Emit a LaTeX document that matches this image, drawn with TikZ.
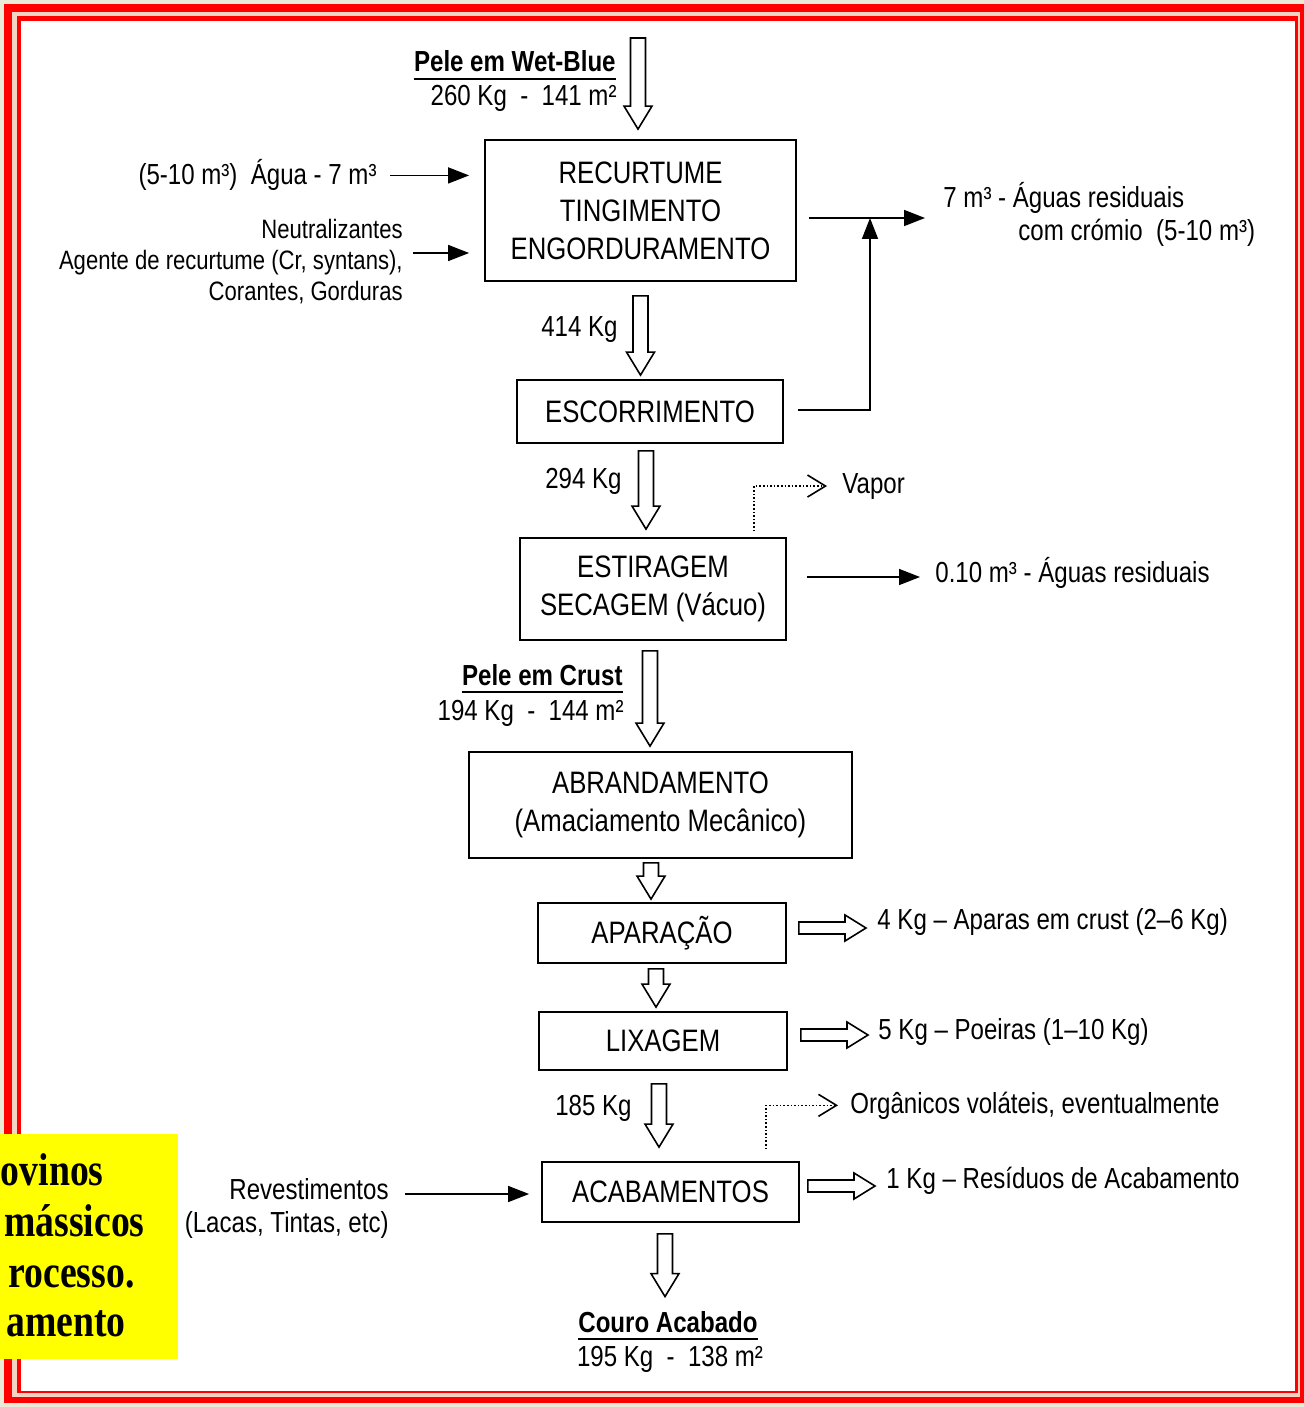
\documentclass[tikz,border=0pt]{standalone}
\usepackage{fontspec}
\setmainfont{Liberation Sans}[FakeStretch=0.83]
\newfontfamily\notefont{Liberation Serif}[FakeStretch=0.82]
\usetikzlibrary{arrows.meta,calc}
\definecolor{frame}{HTML}{FF0000}
\definecolor{paper}{HTML}{E9EBD6}
\definecolor{pale}{HTML}{F3D3C3}
\definecolor{note}{HTML}{FFFF00}
\tikzset{
  stage/.style={draw, line width=0.9pt, inner sep=0pt, align=center,
    font=\fontsize{15.5}{19}\selectfont},
  lbl/.style={inner sep=0pt, font=\fontsize{14.5}{17}\selectfont},
  head/.style={inner sep=0pt, font=\fontsize{14.5}{17}\selectfont\bfseries},
  small/.style={inner sep=0pt, align=right, font=\fontsize{13.3}{15.5}\selectfont},
  feed/.style={line width=0.8pt, -{Triangle[length=10.5pt,width=8pt]}},
  vent/.style={line width=0.8pt, densely dotted, -{Straight Barb[length=9pt,width=11pt]}},
  flowdown/.style={draw, fill=white, line width=0.8pt, to path={
    let \p1=(\tikztostart), \p2=(\tikztotarget) in
    (\x1-3.75pt,\y1) -- (\x1+3.75pt,\y1) -- (\x1+3.75pt,\y2+11.5pt)
    -- (\x1+7pt,\y2+11.5pt) -- (\x1,\y2) -- (\x1-7pt,\y2+11.5pt)
    -- (\x1-3.75pt,\y2+11.5pt) -- cycle}},
  flowright/.style={draw, fill=white, line width=0.8pt, to path={
    let \p1=(\tikztostart), \p2=(\tikztotarget) in
    (\x1,\y1+3pt) -- (\x2-10.5pt,\y1+3pt) -- (\x2-10.5pt,\y1+6.5pt)
    -- (\x2,\y1) -- (\x2-10.5pt,\y1-6.5pt) -- (\x2-10.5pt,\y1-3pt)
    -- (\x1,\y1-3pt) -- cycle}},
}
\begin{document}
\begin{tikzpicture}[x=0.5pt,y=-0.5pt]
\useasboundingbox (0,0) rectangle (1304,1407);
% frame
\fill[paper] (0,0) rectangle (1304,1407);
\fill[frame] (4,4) rectangle (1310,1403);
\fill[pale] (12,12) rectangle (1300,1397);
\fill[frame] (16.5,16.5) rectangle (1298,1393);
\fill[white] (21,21) rectangle (1295,1391);

% stages
\node[stage, minimum width=155.5pt, minimum height=70.5pt] (recurt) at (640.5,210.5) {RECURTUME\\TINGIMENTO\\ENGORDURAMENTO};
\node[stage, minimum width=133pt, minimum height=31.5pt] (escorr) at (650,411.5) {ESCORRIMENTO};
\node[stage, minimum width=133pt, minimum height=51pt] (estir) at (653,589) {ESTIRAGEM\\SECAGEM (Vácuo)};
\node[stage, minimum width=191.5pt, minimum height=53pt] (abrand) at (660.5,805) {ABRANDAMENTO\\(Amaciamento Mecânico)};
\node[stage, minimum width=124pt, minimum height=30pt] (apar) at (662,933) {APARAÇÃO};
\node[stage, minimum width=124pt, minimum height=29pt] (lixa) at (663,1041) {LIXAGEM};
\node[stage, minimum width=128.5pt, minimum height=30pt] (acab) at (670.5,1192) {ACABAMENTOS};

% entrada
\node[head, anchor=base east] (wetblue) at (616,72) {Pele em Wet-Blue};
\draw[line width=0.9pt] ([yshift=-3pt]wetblue.south west) -- ([yshift=-3pt]wetblue.south east);
\node[lbl, anchor=base east] (wetqty) at (617,106) {260 Kg~ -~ 141 m²};
\coordinate (wbtop) at (638,38);
\draw[flowdown] (wbtop) to ([yshift=5pt]recurt.north);

\node[lbl, anchor=base east] (agua) at (377,185) {(5-10 m³)~ Água - 7 m³};
\draw[feed] ([xshift=6.5pt]agua.east) -- ($(agua.east -| recurt.west)+(-7.5pt,0)$);
\node[small, anchor=east] (chem) at (403,262) {Neutralizantes\\Agente de recurtume (Cr, syntans),\\Corantes, Gorduras};
\draw[feed] ([xshift=5pt,yshift=4.5pt]chem.east) -- ($(chem.east -| recurt.west)+(-7.5pt,4.5pt)$);

% aguas residuais
\node[lbl, anchor=base west] (resid) at (943,208) {7 m³ - Águas residuais};
\node[lbl, anchor=base west] (residb) at (1018,241) {com crómio~ (5-10 m³)};
\coordinate (rjoin) at (870,218);
\draw[feed] ($(recurt.east |- rjoin)+(6pt,0)$) -- ($(resid.west |- rjoin)+(-9pt,0)$);
\draw[feed] ([xshift=7pt,yshift=0.75pt]escorr.east) -| (rjoin);

\node[lbl, anchor=base east] (m414) at (618,336) {414 Kg};
\draw[flowdown] ([yshift=-7pt]recurt.south) to ([yshift=2pt]escorr.north);
\node[lbl, anchor=base east] (m294) at (622,488) {294 Kg};
\draw[flowdown] ([xshift=-2pt,yshift=-3.5pt]escorr.south) to ([yshift=4pt]estir.north);

\node[lbl, anchor=base west] (vapor) at (842,493) {Vapor};
\draw[vent] ([xshift=50.5pt,yshift=3pt]estir.north) |- ([xshift=-7.5pt]vapor.west);
\node[lbl, anchor=base west] (residc) at (935,582) {0.10 m³ - Águas residuais};
\coordinate (eout) at ([xshift=10pt,yshift=6pt]estir.east);
\draw[feed] (eout) -- ($(residc.west |- eout)+(-7.5pt,0)$);

% crust
\node[head, anchor=base east] (crust) at (623,685) {Pele em Crust};
\draw[line width=0.9pt] ([yshift=-3pt]crust.south west) -- ([yshift=-3pt]crust.south east);
\node[lbl, anchor=base east] (crustqty) at (624,720) {194 Kg~ -~ 144 m²};
\draw[flowdown] ([xshift=-1.5pt,yshift=-5pt]estir.south) to ([yshift=2.5pt]abrand.north);
\draw[flowdown] ([xshift=-4.75pt,yshift=-2pt]abrand.south) to ([yshift=1.5pt]apar.north);

\node[lbl, anchor=base west] (aparout) at (877,929) {4 Kg – Aparas em crust (2–6 Kg)};
\draw[flowright] ([xshift=6pt,yshift=2.5pt]apar.east) to ([xshift=-5.5pt]aparout.west);
\draw[flowdown] ([xshift=-3pt,yshift=-2.5pt]apar.south) to ([yshift=2pt]lixa.north);

\node[lbl, anchor=base west] (lixaout) at (878,1039) {5 Kg – Poeiras (1–10 Kg)};
\draw[flowright] ([xshift=6.5pt,yshift=3pt]lixa.east) to ([xshift=-5pt]lixaout.west);
\node[lbl, anchor=base east] (m185) at (632,1115) {185 Kg};
\draw[flowdown] ([xshift=-2pt,yshift=-6.5pt]lixa.south) to ([yshift=7pt]acab.north);

% acabamento
\node[lbl, anchor=base west] (organ) at (850,1113) {Orgânicos voláteis, eventualmente};
\draw[vent] ([xshift=47.75pt,yshift=6pt]acab.north) |- ([xshift=-6pt]organ.west);
\node[lbl, anchor=base west] (acabout) at (886,1188) {1 Kg – Resíduos de Acabamento};
\draw[flowright] ([xshift=4pt,yshift=3pt]acab.east) to ([xshift=-5.5pt]acabout.west);
\node[lbl, align=right, anchor=east, font=\fontsize{14.5}{16.5}\selectfont] (revest) at (389,1208) {Revestimentos\\(Lacas, Tintas, etc)};
\draw[feed] ([xshift=8pt,yshift=7pt]revest.east) -- ($(revest.east -| acab.west)+(-6pt,7pt)$);

\node[head, anchor=base] (couro) at (668,1332) {Couro Acabado};
\draw[line width=0.9pt] ([yshift=-3pt]couro.south west) -- ([yshift=-3pt]couro.south east);
\node[lbl, anchor=base] (couroqty) at (670,1366) {195 Kg~ -~ 138 m²};
\draw[flowdown] ([xshift=-2.75pt,yshift=-5.5pt]acab.south) to ([yshift=7pt]couro.north);

% nota
\fill[note] (0,1134) rectangle (178,1359);
\begin{scope}[every node/.style={anchor=base east, inner sep=0pt, font=\notefont\bfseries\fontsize{23}{26}\selectfont}]
\node (n1) at (104,1185) {ovinos};
\node (n2) at (145,1236) {mássicos};
\node (n3) at (135,1287) {rocesso.};
\node (n4) at (126,1336) {amento};
\end{scope}
\end{tikzpicture}
\end{document}
